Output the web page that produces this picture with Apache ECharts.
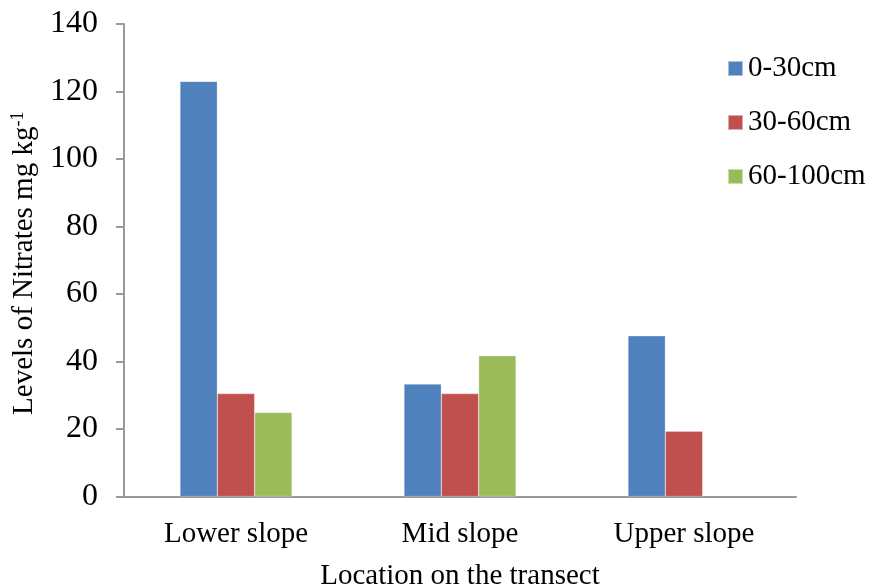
<!DOCTYPE html>
<html>
<head>
<meta charset="utf-8">
<script src="https://cdn.jsdelivr.net/npm/echarts@6/dist/echarts.min.js"></script>
<style>
  html, body { margin: 0; padding: 0; background: #fff; }
  #chart { width: 872px; height: 588px; }
</style>
</head>
<body>
<div id="chart"></div>
<script>
// Nitrate levels by slope position and soil depth
const locations = ['Lower slope', 'Mid slope', 'Upper slope'];
const depth0to30 = [123.0, 33.3, 47.6];
const depth30to60 = [30.5, 30.5, 19.3];
const depth60to100 = [24.9, 41.7, null];
const depthNames = ['0-30cm', '30-60cm', '60-100cm'];
const depthColors = ['#4F81BD', '#C0504D', '#9BBB59'];

const FONT = '"Liberation Serif", "Times New Roman", serif';
const chart = echarts.init(document.getElementById('chart'));

const seriesData = [depth0to30, depth30to60, depth60to100];

chart.setOption({
  animation: false,
  textStyle: { fontFamily: FONT, color: '#000' },
  grid: { left: 124, right: 76, top: 24, bottom: 91.5, containLabel: false, outerBoundsMode: 'none' },
  legend: {
    orient: 'vertical',
    left: 722,
    top: 49,
    itemWidth: 15,
    itemHeight: 15,
    itemGap: 25,
    icon: 'rect',
    textStyle: { fontFamily: FONT, fontSize: 29, color: '#000', padding: [0, 0, 0, 0] },
    data: depthNames
  },
  xAxis: {
    type: 'category',
    data: locations,
    name: 'Location on the transect',
    nameLocation: 'middle',
    nameGap: 65,
    nameTextStyle: { fontFamily: FONT, fontSize: 29, color: '#000' },
    axisLine: { lineStyle: { color: '#999', width: 2 } },
    axisTick: { show: false },
    axisLabel: { fontFamily: FONT, fontSize: 29, color: '#000', margin: 23 }
  },
  yAxis: {
    type: 'value',
    min: 0,
    max: 140,
    interval: 20,
    name: '{n|Levels of Nitrates mg kg}{s|-1}',
    nameLocation: 'middle',
    nameGap: 82,
    nameRotate: 90,
    nameTextStyle: {
      padding: [0, 6, 0, 0],
      rich: {
        n: { fontFamily: FONT, fontSize: 29, color: '#000' },
        s: { fontFamily: FONT, fontSize: 18, color: '#000', verticalAlign: 'top', padding: [0, 0, 12, 0] }
      }
    },
    axisLine: { show: true, lineStyle: { color: '#999', width: 2 } },
    axisTick: { show: true, inside: false, length: 8, lineStyle: { color: '#999', width: 2 } },
    splitLine: { show: false },
    axisLabel: { fontFamily: FONT, fontSize: 32, color: '#000', margin: 26, padding: [6, 0, 0, 0] }
  },
  series: depthNames.map((name, i) => ({
    name: name,
    type: 'bar',
    data: seriesData[i],
    barGap: '0%',
    barCategoryGap: '50%',
    itemStyle: { color: depthColors[i], borderColor: 'rgba(255,255,255,0.5)', borderWidth: 0.5 }
  }))
});
</script>
</body>
</html>
